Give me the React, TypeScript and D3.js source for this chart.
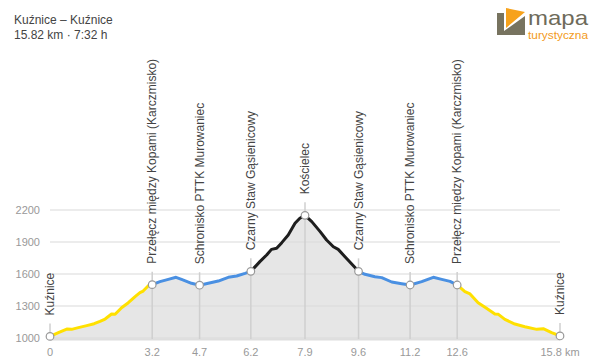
import React from "react";
import * as d3 from "d3";

const dist = [0, 0.26, 0.52, 0.67, 0.88, 1.14, 1.37, 1.55, 1.71, 1.91, 2.02, 2.22, 2.43, 2.64, 2.79, 2.89, 3.05, 3.17, 3.41, 3.67, 3.91, 4.08, 4.39, 4.64, 4.91, 5.22, 5.53, 5.79, 6.05, 6.23, 6.51, 6.72, 6.87, 7.03, 7.19, 7.39, 7.6, 7.75, 7.91, 8.12, 8.38, 8.58, 8.79, 8.94, 9.15, 9.36, 9.57, 9.77, 10.08, 10.29, 10.6, 10.91, 11.17, 11.53, 11.89, 12.15, 12.41, 12.63, 12.87, 13.03, 13.28, 13.54, 13.8, 13.91, 14.11, 14.42, 14.73, 15.1, 15.3, 15.56, 15.82];
const elev = [1015, 1050, 1084, 1081, 1097, 1116, 1134, 1156, 1178, 1225, 1222, 1284, 1331, 1388, 1425, 1440, 1490, 1500, 1528, 1550, 1569, 1550, 1513, 1495, 1513, 1534, 1569, 1581, 1606, 1625, 1716, 1778, 1831, 1841, 1894, 1966, 2075, 2122, 2150, 2091, 1997, 1919, 1856, 1831, 1762, 1694, 1625, 1597, 1575, 1566, 1525, 1509, 1497, 1528, 1569, 1550, 1531, 1497, 1434, 1413, 1331, 1278, 1225, 1222, 1175, 1131, 1106, 1081, 1087, 1050, 1019];

const waypointNames = ["Kuźnice", "Przełęcz między Kopami (Karczmisko)", "Schronisko PTTK Murowaniec", "Czarny Staw Gąsienicowy", "Kościelec", "Czarny Staw Gąsienicowy", "Schronisko PTTK Murowaniec", "Przełęcz między Kopami (Karczmisko)", "Kuźnice"];
const waypointDist = [0, 3.17, 4.64, 6.23, 7.91, 9.57, 11.17, 12.63, 15.82];
const waypointElev = [1015, 1500, 1495, 1625, 2150, 1625, 1497, 1497, 1019];
const xTickLabels = ["0", "3.2", "4.7", "6.2", "7.9", "9.6", "11.2", "12.6", "15.8 km"];
const yTicks = [1000, 1300, 1600, 1900, 2200];

const segmentStarts = [0, 3.17, 6.23, 9.57, 12.63];
const segmentEnds = [3.17, 6.23, 9.57, 12.63, 15.82];
const segmentColors = ["#ffe000", "#4a90e2", "#1e1e1e", "#4a90e2", "#ffe000"];

const titleText = "Kuźnice – Kuźnice";
const subtitleText = "15.82 km · 7:32 h";

export default function App() {
  const W = 600, H = 362;
  const x = d3.scaleLinear().domain([0, 15.82]).range([50, 560]);
  const y = d3.scaleLinear().domain([1000, 2200]).range([338, 210]);
  const pts = dist.map((d, i) => ({ d, e: elev[i] }));
  const area = d3.area<{ d: number; e: number }>()
    .x(p => x(p.d)).y0(339).y1(p => y(p.e));
  const line = d3.line<{ d: number; e: number }>()
    .x(p => x(p.d)).y(p => y(p.e));
  const font = "'Liberation Sans', Arial, Helvetica, sans-serif";

  return (
    <svg width={W} height={H} style={{ position: "absolute", left: 0, top: 0, background: "#fff" }} fontFamily={font}>
      <rect x={0} y={0} width={W} height={H} fill="#fff" />
      <text x={14} y={24} fontSize={12} fill="#444">{titleText}</text>
      <text x={14} y={39} fontSize={12} fill="#444">{subtitleText}</text>

      {/* logo */}
      <g>
        <polygon points="497,13 504,13 504,31 525,16 525,35 497,35" fill="#77735f" />
        <polygon points="506,8 525,12 506,28" fill="#f7a21b" />
        <text x={528} y={25} fontSize={21} fill="#6e6b5a" textLength={60} lengthAdjust="spacingAndGlyphs">mapa</text>
        <text x={528} y={38.5} fontSize={10} fill="#f39a1b" textLength={60} lengthAdjust="spacingAndGlyphs">turystyczna</text>
      </g>

      {/* grid */}
      {yTicks.map(t => (
        <g key={t}>
          <line x1={50} x2={560} y1={y(t)} y2={y(t)} stroke="#ececec" strokeWidth={2} />
          <text x={40} y={y(t) + 4} fontSize={11} fill="#999" textAnchor="end">{t}</text>
        </g>
      ))}

      <path d={area(pts) || ""} fill="#dcdcdc" fillOpacity={0.7} />
      <line x1={50} x2={560} y1={339.5} y2={339.5} stroke="#dedede" strokeWidth={2} />

      {/* waypoint lines */}
      {waypointDist.map((d, i) => (
        <line key={"v" + i} x1={x(d)} x2={x(d)} y1={y(waypointElev[i]) - 13} y2={339} stroke="#cfcfcf" strokeWidth={1.5} />
      ))}

      {/* profile segments */}
      {segmentStarts.map((s, i) => {
        const seg = pts.filter(p => p.d >= s - 1e-9 && p.d <= segmentEnds[i] + 1e-9);
        return <path key={"s" + i} d={line(seg) || ""} fill="none" stroke={segmentColors[i]} strokeWidth={3} strokeLinejoin="round" strokeLinecap="round" />;
      })}

      {/* waypoint markers & labels */}
      {waypointDist.map((d, i) => (
        <g key={"w" + i}>
          <circle cx={x(d)} cy={y(waypointElev[i])} r={3.8} fill="#fff" stroke="#999" strokeWidth={1.2} />
          <text transform={`translate(${x(d)},${y(waypointElev[i]) - 21}) rotate(-90)`} dy="0.35em" fontSize={12} fill="#444">{waypointNames[i]}</text>
          <text x={x(d)} y={356} fontSize={11} fill="#999" textAnchor="middle">{xTickLabels[i]}</text>
        </g>
      ))}
    </svg>
  );
}
